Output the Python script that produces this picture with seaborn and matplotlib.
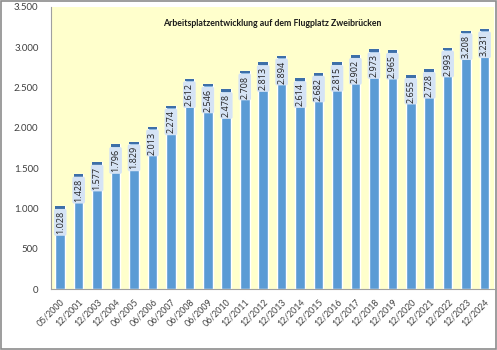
import matplotlib
matplotlib.use("Agg")
import matplotlib.pyplot as plt
import seaborn as sns
import pandas as pd
from matplotlib.patches import Rectangle
from matplotlib.ticker import FuncFormatter

categories = ["05/2000", "12/2001", "12/2003", "12/2004", "06/2005", "06/2006",
              "06/2007", "06/2008", "06/2009", "06/2010", "12/2011", "12/2012",
              "12/2013", "12/2014", "12/2015", "12/2016", "12/2017", "12/2018",
              "12/2019", "12/2020", "12/2021", "12/2022", "12/2023", "12/2024"]
values = [1028, 1428, 1577, 1796, 1829, 2013, 2274, 2612, 2546, 2478, 2708, 2813,
          2894, 2614, 2682, 2815, 2902, 2973, 2965, 2655, 2728, 2993, 3208, 3231]
y_ticks = [0, 500, 1000, 1500, 2000, 2500, 3000, 3500]
title = "Arbeitsplatzentwicklung auf dem Flugplatz Zweibrücken"

sns.set_theme(style="white")
plt.rcParams["font.family"] = ["Lato", "DejaVu Sans"]

df = pd.DataFrame({"Datum": categories, "Arbeitsplätze": values})

fig = plt.figure(figsize=(4.97, 3.5), dpi=100)
ax = fig.add_axes([0.1026, 0.174, 0.891, 0.806])
ax.set_facecolor("#FFFFCC")

sns.barplot(data=df, x="Datum", y="Arbeitsplätze", color="#5B9BD5",
            saturation=1, width=0.52, ax=ax)

ax.set_xlim(-0.5, len(categories) - 0.5)
ax.set_ylim(0, 3500)
ax.set_yticks(y_ticks)
ax.yaxis.set_major_formatter(FuncFormatter(lambda v, p: f"{int(v):,}".replace(",", ".")))
ax.set_xlabel("")
ax.set_ylabel("")

strip = 32
for patch, v in zip(ax.patches, values):
    x0 = patch.get_x()
    w = patch.get_width()
    ax.add_patch(Rectangle((x0, v - strip), w, strip, facecolor="#3D6FA8",
                           edgecolor="none", zorder=3))
    ax.text(x0 + w / 2, v - 200, f"{v:,}".replace(",", "."), rotation=90,
            ha="center", va="center", fontsize=6.5, color="#222222", zorder=5,
            family=["Open Sans", "DejaVu Sans"],
            bbox=dict(boxstyle="round,pad=0.2,rounding_size=0.2",
                      facecolor="#D5E3F5", edgecolor="none"))

ax.text(0.5, 0.943, title, transform=ax.transAxes, ha="center", va="center",
        fontsize=6.3, fontweight="bold", color="#1a1a1a")

for side in ["top", "right"]:
    ax.spines[side].set_visible(False)
ax.spines["left"].set_color("#A0A0A0")
ax.spines["bottom"].set_color("#A0A0A0")
ax.spines["left"].set_linewidth(0.8)
ax.spines["bottom"].set_linewidth(0.8)

ax.tick_params(axis="y", labelsize=7, colors="#404040", length=0, pad=9)
ax.tick_params(axis="x", labelsize=6.3, colors="#404040", length=0, pad=6)
for lbl in ax.get_xticklabels():
    lbl.set_rotation(45)
    lbl.set_ha("right")
    lbl.set_rotation_mode("anchor")

fig.patches.append(Rectangle((0.002, 0.003), 0.995, 0.994, transform=fig.transFigure,
                             fill=False, edgecolor="#8C8C8C", linewidth=1.2))

fig.savefig("out.png", dpi=100)
